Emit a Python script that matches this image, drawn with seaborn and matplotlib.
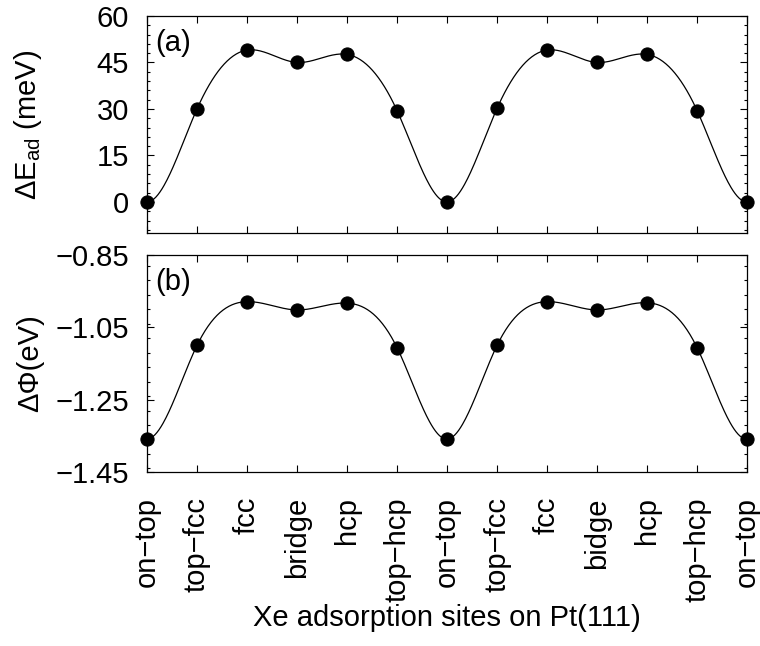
import numpy as np
import pandas as pd
import seaborn as sns
import matplotlib.pyplot as plt
from matplotlib.ticker import MultipleLocator

# adsorption sites along the path
sites = ['on\u2212top', 'top\u2212fcc', 'fcc', 'bridge', 'hcp', 'top\u2212hcp', 'on\u2212top',
         'top\u2212fcc', 'fcc', 'bidge', 'hcp', 'top\u2212hcp', 'on\u2212top']
pos = np.arange(len(sites))

# (a) adsorption energy difference, meV
dE_ad = [0, 30, 49, 45, 47.6, 29.5, 0, 30.2, 49, 45, 47.6, 29.5, 0]
# (b) work function change, eV
dPhi = [-1.359, -1.100, -0.979, -1.002, -0.983, -1.106, -1.359,
        -1.100, -0.979, -1.002, -0.982, -1.106, -1.359]


def smooth_curve(x, y, n=600, pad=6):
    # cubic spline through the points; the path is periodic, so wrap a few
    # points on each side to get the ends right
    x = np.asarray(x, float)
    y = np.asarray(y, float)
    per = len(x) - 1
    xe = np.concatenate([x[-pad - 1:-1] - per, x, x[1:pad + 1] + per])
    ye = np.concatenate([y[-pad - 1:-1], y, y[1:pad + 1]])
    h = np.diff(xe)
    m = len(xe)
    A = np.zeros((m, m))
    b = np.zeros(m)
    A[0, 0] = A[-1, -1] = 1
    for i in range(1, m - 1):
        A[i, i - 1] = h[i - 1]
        A[i, i] = 2 * (h[i - 1] + h[i])
        A[i, i + 1] = h[i]
        b[i] = 3 * ((ye[i + 1] - ye[i]) / h[i] - (ye[i] - ye[i - 1]) / h[i - 1])
    c = np.linalg.solve(A, b)
    xs = np.linspace(x[0], x[-1], n)
    k = np.clip(np.searchsorted(xe, xs, side='right') - 1, 0, m - 2)
    dx = xs - xe[k]
    bb = (ye[k + 1] - ye[k]) / h[k] - h[k] * (2 * c[k] + c[k + 1]) / 3
    dd = (c[k + 1] - c[k]) / (3 * h[k])
    return xs, ye[k] + bb * dx + c[k] * dx ** 2 + dd * dx ** 3


sns.set_style('ticks')
plt.rcParams['font.family'] = ['Liberation Sans', 'DejaVu Sans']
plt.rcParams['mathtext.fontset'] = 'custom'
plt.rcParams['mathtext.rm'] = 'Liberation Sans'
for key in ['text.color', 'axes.labelcolor', 'xtick.color', 'ytick.color']:
    plt.rcParams[key] = 'black'

fig = plt.figure(figsize=(7.6, 6.46), dpi=100)
ax1 = fig.add_axes([0.1934, 0.6393, 0.7896, 0.3360])
ax2 = fig.add_axes([0.1934, 0.2693, 0.7896, 0.3360])

panels = [(ax1, dE_ad, '(a)', 'ΔE$_{\\mathrm{ad}}$ (meV)'),
          (ax2, dPhi, '(b)', 'ΔΦ(eV)')]
for ax, vals, tag, ylab in panels:
    xs, ys = smooth_curve(pos, vals)
    sns.lineplot(x=xs, y=ys, ax=ax, color='black', linewidth=0.9)
    sns.scatterplot(x=pos, y=vals, ax=ax, color='black', s=90, edgecolor='black',
                    zorder=3, clip_on=False)
    ax.set_xlim(0, 12)
    ax.set_xticks(pos)
    ax.set_ylabel(ylab, fontsize=21)
    ax.yaxis.set_label_coords(-0.172, 0.5)
    ax.text(0.013, 0.94, tag, transform=ax.transAxes, fontsize=21, va='top', ha='left')
    ax.tick_params(which='both', direction='in', top=True, right=True, labelsize=21,
                   width=0.8)
    ax.tick_params(axis='y', pad=13)
    ax.tick_params(which='major', length=5)
    ax.tick_params(which='minor', length=2.5)
    for sp in ax.spines.values():
        sp.set_linewidth(0.9)
        sp.set_color('black')

ax1.set_ylim(-10, 60)
ax1.set_yticks([0, 15, 30, 45, 60])
ax1.yaxis.set_minor_locator(MultipleLocator(3))
ax1.set_xticklabels([])

ax2.set_ylim(-1.45, -0.85)
ax2.set_yticks([-1.45, -1.25, -1.05, -0.85])
ax2.yaxis.set_minor_locator(MultipleLocator(0.04))
ax2.set_xticklabels(sites, rotation=90, fontsize=21)
ax2.tick_params(axis='x', pad=18)
ax2.set_xlabel('Xe adsorption sites on Pt(111)', fontsize=21, labelpad=2)

fig.savefig('out.png', dpi=100)
